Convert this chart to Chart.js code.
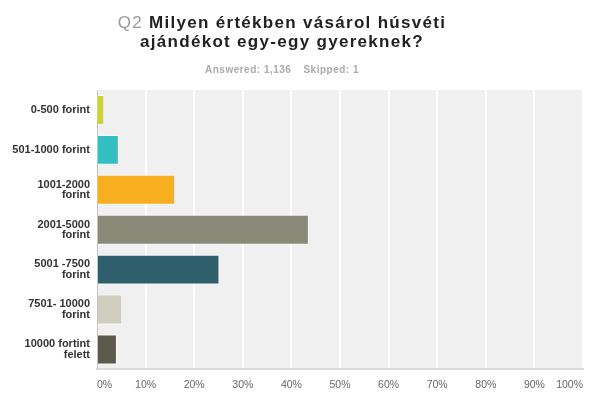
<!DOCTYPE html>
<html>
<head>
<meta charset="utf-8">
<script src="https://cdn.jsdelivr.net/npm/chart.js@4"></script>
<style>
  html, body { margin: 0; padding: 0; background: #fff; }
  #wrap { position: relative; width: 600px; height: 400px; font-family: "Liberation Sans", Arial, sans-serif; }
  #title {
    position: absolute; left: 0; top: 14px; width: 564px; text-align: center;
    font-size: 17px; font-weight: bold; color: #222; line-height: 18.5px; letter-spacing: 1.3px;
  }
  #title .q { color: #999; font-weight: normal; }
  #sub {
    position: absolute; left: 0; top: 64px; width: 564px; text-align: center;
    font-size: 10px; font-weight: bold; color: #aaa; letter-spacing: 0.5px;
  }
  #sub span { margin: 0 6px; }
  canvas { position: absolute; left: 0; top: 0; }
</style>
</head>
<body>
<div id="wrap">
  <canvas id="chart" width="600" height="400"></canvas>
  <div id="title"><span class="q">Q2</span> Milyen értékben vásárol húsvéti<br>ajándékot egy-egy gyereknek?</div>
  <div id="sub"><span>Answered: 1,136</span><span>Skipped: 1</span></div>
</div>
<script>
  // Answer options and share of responses (%)
  const categories = [
    "0-500 forint",
    "501-1000 forint",
    ["1001-2000", "forint"],
    ["2001-5000", "forint"],
    ["5001 -7500", "forint"],
    ["7501- 10000", "forint"],
    ["10000 fortint", "felett"]
  ];
  const values = [1.5, 4.5, 16.1, 43.6, 25.2, 5.2, 4.1];
  const barColors = ["#cad52a", "#33bfc1", "#f7ae1f", "#8a8a78", "#2f5f6c", "#cfcdbf", "#5b5a4b"];
  const xTicks = [0, 10, 20, 30, 40, 50, 60, 70, 80, 90, 100];

  // grey plot background
  const plotBg = {
    id: "plotBg",
    beforeDraw(chart) {
      const { ctx, chartArea: a } = chart;
      ctx.save();
      ctx.fillStyle = "#f0f0f0";
      ctx.fillRect(a.left, a.top, a.right - a.left, a.bottom - a.top);
      ctx.restore();
    }
  };

  new Chart(document.getElementById("chart"), {
    type: "bar",
    data: {
      labels: categories,
      datasets: [{
        data: values,
        backgroundColor: barColors,
        borderColor: "rgba(255,255,255,0.6)",
        borderWidth: 1,
        barPercentage: 0.75,
        categoryPercentage: 1
      }]
    },
    options: {
      indexAxis: "y",
      responsive: false,
      animation: false,
      layout: { padding: { top: 90, right: 17, bottom: 0, left: 0 } },
      plugins: {
        legend: { display: false },
        tooltip: { enabled: false }
      },
      scales: {
        x: {
          min: 0,
          max: 100,
          afterBuildTicks(scale) {
            scale.ticks = xTicks.map(v => ({ value: v }));
          },
          grid: { color: "#ffffff", lineWidth: 2, drawTicks: false },
          border: { display: true, color: "#dcdcdc", width: 2 },
          ticks: {
            align: "inner",
            padding: 9,
            color: "#666",
            font: { family: "Liberation Sans", size: 10.5 },
            callback: v => v + "%"
          }
        },
        y: {
          afterFit(scale) { scale.width = 97; },
          grid: { display: false, drawTicks: false },
          border: { display: true, color: "#c4c4c4", width: 1 },
          ticks: {
            padding: 7,
            color: "#333",
            font: { family: "Liberation Sans", size: 11, weight: "bold", lineHeight: 0.95 }
          }
        }
      }
    },
    plugins: [plotBg]
  });
</script>
</body>
</html>
